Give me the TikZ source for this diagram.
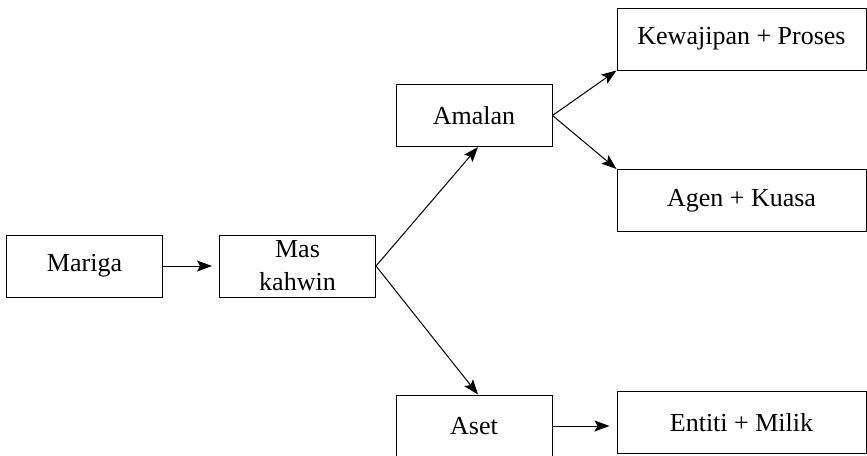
\documentclass[tikz,border=0pt]{standalone}
\usepackage{fontspec}
\setmainfont{Liberation Serif}
\usetikzlibrary{arrows.meta}
\newcommand{\boxFont}{\fontsize{13}{16.5}\selectfont}

\tikzset{
	termbox/.style={draw, line width=0.5pt, minimum height=31pt, inner sep=0pt, align=center, font=\boxFont},
	shortbox/.style={termbox, minimum width=78pt},
	longbox/.style={termbox, minimum width=124.5pt},
	link/.style={-{Stealth[length=7.5pt,width=5.5pt,inset=1.5pt]}, line width=0.5pt}
}

\begin{document}
\begin{tikzpicture}[x=0.5pt, y=-0.5pt]

		% frame
		\clip (0,0) rectangle (867,455);

		% first column
		\node[shortbox] (mariga) at (84.5,266) {Mariga};
		\node[shortbox] (maskahwin) at (297.5,266) {Mas\\kahwin};

		% middle column
		\node[shortbox] (amalan) at (474,115.5) {Amalan};
		\node[shortbox] (aset) at (474,426) {Aset};

		% right column
		\node[longbox] (kewajipan) at (741.5,39) {Kewajipan + Proses};
		\node[longbox] (agen) at (741.5,200.5) {Agen + Kuasa};
		\node[longbox] (entiti) at (741.5,422.5) {Entiti + Milik};

		% arrows
		\draw[link, shorten >=3.5pt] (mariga) -- (maskahwin);
		\draw[link] (maskahwin.east) -- ([xshift=2pt]amalan.south);
		\draw[link] (maskahwin.east) -- ([xshift=2pt]aset.north);
		\draw[link] (amalan.east) -- (kewajipan.south west);
		\draw[link] (amalan.east) -- (agen.north west);
		\draw[link, shorten >=3.5pt] (aset.east) -- (aset.east -| entiti.west);

\end{tikzpicture}
\end{document}
